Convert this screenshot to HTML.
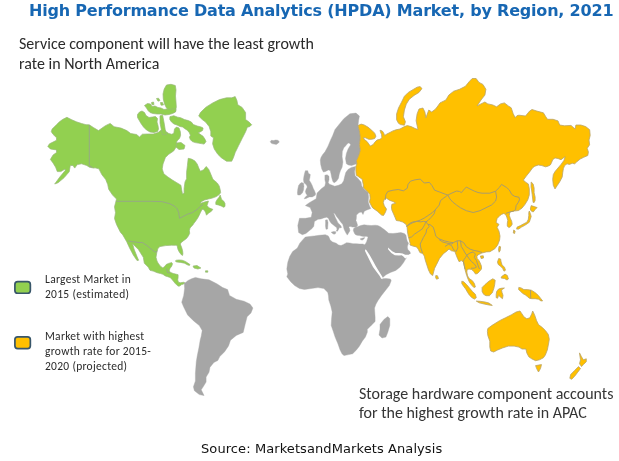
<!DOCTYPE html>
<html><head><meta charset="utf-8">
<style>
html,body{margin:0;padding:0;background:#fff;}
body{width:619px;height:461px;position:relative;overflow:hidden;}
.t{position:absolute;white-space:nowrap;}
#title{left:29px;top:1px;font:bold 16px "DejaVu Sans","Liberation Sans",sans-serif;letter-spacing:-0.2px;color:#1767b3;}
.cal{font-family:Carlito,"Liberation Sans",sans-serif;font-size-adjust:0.4775;color:#2a2a2a;}
.t{will-change:transform;}
#note1{left:19px;top:34.3px;font-size:16px;line-height:19.5px;}
#note2{left:359.2px;top:384.7px;color:#353535;font-size:16px;line-height:18.5px;}
.leg{font-size:11.5px;line-height:14.8px;letter-spacing:0.3px;color:#2a2a2a;}
#l1{left:45px;top:272px;}
#l2{left:45px;top:329.3px;}
#src{left:201px;top:440.8px;font:13px "DejaVu Sans","Liberation Sans",sans-serif;letter-spacing:0.09px;color:#111;}
svg{position:absolute;left:0;top:0;}
</style></head><body>
<svg width="619" height="461" viewBox="0 0 619 461">
<polygon points="66.9,117.3 71.2,119.5 76.4,121.8 81.6,123.5 86.0,124.7 89.2,124.8 93.7,127.7 98.5,130.6 105.4,125.7 110.2,123.4 114.1,126.7 121.0,128.1 126.8,130.6 130.7,133.5 136.6,134.5 139.5,137.0 142.4,134.2 147.3,134.0 153.2,134.0 158.0,132.6 160.0,131.0 162.9,128.7 165.9,131.6 168.8,133.5 171.8,134.3 173.8,133.3 174.5,129.0 176.5,127.0 179.0,128.0 180.3,131.5 180.6,135.3 179.6,138.2 177.7,140.2 176.5,142.0 176.8,146.1 173.6,151.0 168.7,154.3 165.4,157.5 163.0,164.0 162.2,168.9 163.8,173.8 167.9,177.0 172.8,180.3 176.8,182.7 180.9,185.2 181.7,190.0 182.5,194.1 184.1,193.3 184.1,188.4 185.0,181.9 186.6,178.7 186.6,172.2 187.4,165.7 188.2,158.3 191.5,159.1 194.7,160.8 197.2,164.0 198.8,168.1 200.4,171.3 203.7,169.7 206.1,166.5 208.5,168.9 210.0,172.2 212.9,179.3 217.2,182.9 219.2,185.9 220.2,189.8 220.6,192.7 219.2,194.6 216.3,196.6 212.3,198.1 208.4,199.0 204.5,200.0 201.6,201.5 200.1,203.4 201.6,203.0 204.5,202.0 208.4,201.0 207.9,203.0 207.0,205.4 208.9,207.8 211.4,208.8 212.8,209.3 211.4,211.3 208.4,213.2 206.5,215.2 205.5,212.2 204.0,209.8 202.1,209.3 200.6,212.2 199.2,215.2 197.7,218.1 195.7,221.0 193.8,223.5 192.8,225.0 190.0,228.0 189.4,230.5 189.7,233.3 188.4,235.9 186.5,238.5 183.9,240.4 181.3,242.4 180.3,244.0 180.9,245.6 181.9,248.2 182.6,250.8 182.9,253.4 182.6,255.4 181.3,254.7 179.3,252.1 178.0,249.5 177.4,246.9 177.0,245.3 175.4,245.3 171.6,245.2 165.7,245.6 159.9,246.6 157.9,248.5 157.0,251.5 156.0,257.3 157.0,261.0 158.0,263.0 160.4,266.2 162.9,267.9 164.9,266.2 166.1,264.6 168.5,263.4 171.7,262.6 172.5,263.8 171.7,266.2 170.1,268.3 169.3,270.3 170.1,272.3 173.3,273.5 176.5,274.3 178.1,274.7 178.1,277.5 177.7,279.9 178.5,282.3 180.5,282.7 183.7,282.3 185.0,283.0 183.0,284.2 181.5,284.6 180.0,285.8 178.9,286.3 177.3,285.5 174.9,283.1 172.5,279.9 170.1,277.5 167.7,276.7 165.3,275.9 162.9,274.3 160.4,273.5 157.2,272.7 153.2,271.1 150.0,270.3 148.2,267.1 144.3,263.2 143.3,257.3 138.4,249.5 132.6,243.7 134.0,249.0 137.0,256.5 138.6,260.3 137.0,260.5 133.3,255.0 129.6,248.0 126.7,241.7 122.8,234.9 120.4,232.2 116.5,224.4 114.5,218.5 115.5,212.7 114.5,206.8 115.5,202.9 116.5,199.0 112.6,195.1 108.7,189.3 107.7,184.4 105.7,179.5 101.8,174.6 98.9,168.8 95.0,167.8 93.8,168.1 89.4,167.2 86.8,165.5 81.6,163.8 77.3,164.6 74.7,168.1 73.0,165.5 70.3,165.5 69.2,171.8 64.0,177.8 58.0,182.8 54.7,184.0 59.8,177.0 65.2,170.5 65.1,169.0 60.8,171.6 57.3,171.6 55.6,167.2 53.0,162.9 50.4,159.4 53.0,155.1 56.5,152.5 56.5,149.9 50.4,149.0 47.8,146.4 49.5,143.8 53.0,142.1 56.5,140.3 56.5,137.7 53.0,134.3 51.3,131.7 52.1,129.1 56.5,124.7 59.1,122.1 62.5,119.5" fill="#92d050" stroke="#98b878" stroke-width="0.7" stroke-linejoin="round"/>
<polygon points="198.7,116.1 200.4,112.6 205.6,107.4 212.6,103.0 219.5,99.6 226.5,97.8 231.7,97.8 235.2,96.6 236.9,100.4 237.8,104.8 242.1,107.4 245.6,112.6 245.6,119.5 249.1,122.1 251.7,124.7 249.9,126.5 247.3,127.3 245.6,131.7 242.1,138.6 238.6,145.6 235.2,152.5 233.4,157.7 231.7,161.2 226.5,161.2 221.3,157.7 217.8,154.3 214.3,149.1 212.6,143.8 213.5,137.8 210.8,136.0 210.8,131.7 209.1,126.5 205.6,122.1 202.2,119.5" fill="#92d050" stroke="#98b878" stroke-width="0.7" stroke-linejoin="round"/>
<polygon points="166.5,85.0 171.0,84.3 175.3,85.5 176.0,90.0 175.5,96.0 176.0,102.0 176.3,107.0 175.5,111.5 172.0,112.5 169.5,111.0 166.5,108.0 164.5,104.0 163.3,99.0 163.0,94.0 164.2,89.0" fill="#92d050" stroke="#98b878" stroke-width="0.7" stroke-linejoin="round"/>
<polygon points="144.5,105.5 147.5,103.5 150.5,104.0 152.0,106.5 155.0,106.0 158.0,107.5 161.0,108.0 164.0,109.5 167.0,109.0 170.5,109.5 173.5,108.5 176.0,109.5 175.5,112.0 172.5,113.5 169.0,114.5 165.0,115.0 161.0,114.0 157.0,114.0 153.0,113.5 150.0,112.5 148.0,110.5 146.5,108.0" fill="#92d050" stroke="#98b878" stroke-width="0.7" stroke-linejoin="round"/>
<polygon points="137.5,114.5 139.5,112.0 142.0,111.0 144.5,112.5 146.0,115.5 149.0,117.5 152.5,117.0 155.5,116.5 157.5,118.5 157.0,122.0 158.0,125.5 158.5,129.0 157.5,131.5 154.0,132.5 150.0,132.0 146.5,130.0 143.5,127.0 141.0,123.5 139.0,120.0 137.5,117.5" fill="#92d050" stroke="#98b878" stroke-width="0.7" stroke-linejoin="round"/>
<polygon points="160.0,115.8 162.6,115.2 163.9,121.7 165.2,129.5 166.5,134.5 162.5,134.7 161.3,129.5 160.0,123.0" fill="#92d050" stroke="#98b878" stroke-width="0.7" stroke-linejoin="round"/>
<polygon points="169.9,116.7 173.8,115.7 177.7,117.2 180.6,117.7 184.5,119.6 188.4,120.6 191.4,122.1 193.3,124.5 197.2,126.0 201.1,127.0 203.1,128.0 202.6,130.4 200.2,131.9 198.2,132.8 200.2,134.3 203.1,136.3 205.0,139.2 206.0,141.6 204.1,144.1 201.1,143.6 198.2,143.1 195.3,142.6 192.3,141.6 190.4,139.7 189.4,137.2 190.4,135.3 189.4,132.8 187.5,130.4 184.5,128.4 182.6,127.0 180.0,126.5 177.0,125.0 174.0,124.0 171.5,122.0 169.8,119.5" fill="#92d050" stroke="#98b878" stroke-width="0.7" stroke-linejoin="round"/>
<polygon points="176.5,143.0 181.0,142.5 185.0,145.5 184.0,149.0 179.0,149.5 176.0,147.0" fill="#92d050" stroke="#98b878" stroke-width="0.7" stroke-linejoin="round"/>
<polygon points="217.2,199.5 219.2,197.1 220.2,195.1 221.6,199.5 223.6,201.0 225.0,203.4 225.0,206.4 223.6,207.3 221.1,205.9 218.2,204.9 215.8,204.4 215.8,202.0" fill="#92d050" stroke="#98b878" stroke-width="0.7" stroke-linejoin="round"/>
<polygon points="175.3,261.0 176.5,260.2 179.0,260.0 182.1,260.2 185.3,261.4 187.8,263.0 190.0,264.6 189.5,265.4 187.8,265.0 184.5,263.2 180.5,262.4 176.5,261.9" fill="#92d050" stroke="#98b878" stroke-width="0.7" stroke-linejoin="round"/>
<polygon points="193.0,266.1 197.0,265.5 200.9,268.0 197.9,269.0 194.0,268.0" fill="#92d050" stroke="#98b878" stroke-width="0.7" stroke-linejoin="round"/>
<polygon points="205.5,270.8 207.8,270.8 207.8,272.2 205.5,272.2" fill="#92d050" stroke="#98b878" stroke-width="0.7" stroke-linejoin="round"/>
<polygon points="184.3,283.3 186.0,282.3 187.6,280.7 191.5,278.8 195.4,277.4 201.2,278.8 209.0,279.8 216.8,283.7 222.7,287.6 227.6,289.5 229.5,295.4 236.3,299.3 244.1,301.2 250.0,304.1 252.9,308.0 251.0,312.9 247.1,316.8 245.1,324.6 243.2,332.4 236.3,335.4 230.5,340.2 228.5,345.9 224.6,351.7 219.8,356.6 217.8,360.5 213.9,362.4 210.0,367.3 209.0,372.2 206.1,377.1 206.1,382.0 203.2,386.8 201.2,389.8 204.1,395.6 199.3,394.6 194.4,390.7 193.4,386.8 195.4,381.0 195.4,373.2 196.3,361.5 197.3,355.6 198.9,347.8 200.2,340.0 201.2,336.3 202.2,330.5 199.3,325.6 193.4,320.7 187.6,314.9 183.7,307.1 181.7,302.2 183.7,295.4 184.6,288.5" fill="#a6a6a6" stroke="#a6a6a6" stroke-width="0.4" stroke-linejoin="round"/>
<polygon points="349.9,113.8 356.0,113.1 359.4,116.1 358.6,120.4 358.0,125.6 359.4,130.8 360.3,137.7 359.4,144.7 360.3,150.0 359.3,153.9 357.8,157.8 356.4,160.7 356.9,163.2 356.8,163.8 351.6,165.5 348.5,165.0 346.4,163.8 345.5,158.6 346.4,153.4 348.1,149.0 350.7,144.7 349.5,143.2 348.6,143.0 347.3,143.8 345.5,146.0 343.8,147.8 342.3,151.6 342.1,156.8 342.9,162.0 342.1,167.2 340.5,170.5 339.3,174.0 338.5,178.2 337.0,180.5 335.5,182.0 334.0,182.8 332.8,181.3 331.7,177.5 331.0,173.7 330.2,170.6 328.3,169.9 325.6,171.4 323.4,172.1 321.8,169.1 320.7,164.6 320.3,160.0 321.0,157.5 322.6,154.7 325.0,151.8 328.0,146.2 330.4,140.4 332.7,135.5 335.0,129.6 339.5,123.9 343.8,118.7" fill="#a6a6a6" stroke="#a6a6a6" stroke-width="0.4" stroke-linejoin="round"/>
<polygon points="355.5,166.4 351.4,167.4 348.0,169.5 345.8,172.5 344.7,176.5 343.7,180.8 341.8,183.8 338.5,185.3 334.7,186.2 331.7,185.1 329.4,184.3 328.2,182.5 329.0,179.7 329.0,176.3 327.1,174.8 324.9,175.2 324.9,179.7 325.6,182.8 324.9,186.0 321.1,188.9 317.1,192.9 316.1,198.8 309.3,202.7 305.4,205.6 310.2,207.6 312.2,212.4 311.2,217.3 305.4,218.3 299.5,218.3 297.8,225.4 298.6,232.5 302.3,234.7 305.9,233.5 309.5,230.5 312.0,228.6 313.8,226.2 314.4,221.5 318.0,219.3 320.9,219.0 323.7,217.9 326.6,217.2 328.4,218.2 329.5,220.7 331.2,223.3 333.4,225.0 335.2,226.5 336.6,227.5 337.0,229.3 336.3,231.1 337.5,231.2 338.5,229.5 339.5,227.5 340.9,227.9 341.6,227.2 340.2,225.0 338.0,222.9 336.6,220.0 335.2,217.2 334.1,214.3 333.4,213.2 334.8,213.6 336.6,216.5 338.8,219.3 340.9,222.2 342.7,224.3 343.4,226.5 344.1,229.3 345.2,231.5 346.3,233.6 347.3,235.1 348.4,233.3 349.9,230.8 349.5,228.6 348.8,227.2 349.5,226.5 350.7,226.5 352.4,227.1 354.0,227.1 355.6,227.4 356.9,226.5 357.6,225.2 357.2,223.9 356.6,221.9 355.9,220.6 356.3,218.7 356.5,215.1 359.1,212.5 361.5,212.0 363.0,214.5 364.3,211.2 366.9,209.9 370.8,208.6 369.5,206.0 368.2,202.0 368.6,196.9 368.0,192.5 364.5,189.5 361.8,186.0 361.0,182.0 358.0,178.5 355.0,175.5 354.6,171.5" fill="#a6a6a6" stroke="#a6a6a6" stroke-width="0.4" stroke-linejoin="round"/>
<polygon points="305.4,170.7 307.7,170.7 308.4,173.3 310.3,174.5 309.9,177.5 309.2,180.2 310.7,182.5 312.2,185.5 313.3,188.5 314.5,190.8 315.6,193.8 315.2,195.3 312.2,196.9 309.2,196.9 306.1,198.4 304.2,198.8 305.4,196.9 307.3,195.3 306.1,193.8 305.4,191.6 306.1,189.3 307.3,187.0 306.5,185.1 305.0,183.6 303.9,182.5 303.5,179.4 303.9,176.4 304.6,173.3" fill="#a6a6a6" stroke="#a6a6a6" stroke-width="0.4" stroke-linejoin="round"/>
<polygon points="301.6,182.5 303.5,183.2 303.9,186.2 303.5,190.0 302.3,193.1 300.1,195.0 297.8,195.0 297.4,193.1 297.8,189.3 298.6,185.5 300.1,183.6" fill="#a6a6a6" stroke="#a6a6a6" stroke-width="0.4" stroke-linejoin="round"/>
<polygon points="325.5,220.0 327.3,219.8 328.0,222.5 327.8,226.0 327.6,229.0 326.0,229.3 325.5,226.0 325.6,223.0" fill="#a6a6a6" stroke="#a6a6a6" stroke-width="0.4" stroke-linejoin="round"/>
<polygon points="331.2,232.2 333.7,231.5 335.9,231.8 335.5,233.6 334.1,234.3 332.3,233.3" fill="#a6a6a6" stroke="#a6a6a6" stroke-width="0.4" stroke-linejoin="round"/>
<polygon points="360.2,238.8 362.1,238.2 364.7,237.5 364.1,238.8 362.4,240.1 360.8,239.8" fill="#a6a6a6" stroke="#a6a6a6" stroke-width="0.4" stroke-linejoin="round"/>
<polygon points="358.2,226.5 360.8,225.5 364.1,224.8 367.3,225.2 371.2,225.5 375.1,225.2 377.7,225.5 380.0,226.5 384.3,229.6 388.7,233.3 393.0,233.5 397.4,233.0 400.8,232.6 404.3,233.5 406.0,235.2 406.6,238.7 407.3,241.3 408.5,243.3 407.8,245.0 407.3,247.0 407.8,249.5 410.0,251.7 410.4,253.4 408.6,255.2 406.6,257.4 405.0,260.1 403.4,262.8 400.1,267.1 395.8,270.4 390.4,272.5 386.0,274.7 382.8,277.4 381.5,278.8 386.0,278.5 390.4,279.0 391.2,280.7 389.3,285.6 385.4,290.5 381.5,295.4 378.0,300.5 376.0,304.0 374.5,308.0 374.8,313.0 375.1,317.0 375.1,321.5 371.2,325.4 367.3,329.3 367.3,332.2 365.4,337.1 362.4,341.0 359.5,345.9 356.6,349.8 352.7,353.7 348.8,354.6 343.9,355.6 342.0,353.7 340.0,349.8 338.0,343.9 335.1,337.1 333.2,331.2 331.2,325.4 331.5,319.5 332.2,312.0 330.8,306.0 328.8,300.0 328.5,296.0 327.8,292.4 323.9,288.5 318.0,287.6 311.2,288.5 304.4,289.5 299.5,288.5 294.6,285.6 290.7,281.7 286.8,276.8 287.8,273.9 286.8,269.0 287.8,262.2 289.8,256.3 292.7,251.5 297.4,248.0 299.8,243.2 303.5,238.9 305.3,237.1 309.5,236.5 314.4,235.9 319.2,235.3 325.3,234.7 328.3,235.9 329.5,238.3 330.1,240.1 332.6,242.0 336.2,243.2 338.6,245.0 341.0,245.6 343.5,244.4 346.5,242.7 349.8,243.0 353.0,243.7 356.3,243.7 359.5,244.0 362.8,244.0 364.7,244.7 365.7,243.4 366.7,241.4 367.3,239.5 368.0,237.5 367.3,236.5 366.0,236.2 364.7,236.5 362.1,236.2 359.5,235.6 356.9,235.2 355.0,234.3 354.0,232.3 353.3,230.4 353.7,228.4 356.0,227.3" fill="#a6a6a6" stroke="#a6a6a6" stroke-width="0.4" stroke-linejoin="round"/>
<polygon points="380.0,324.4 383.9,319.5 387.8,316.6 389.8,318.5 389.8,325.4 387.8,332.2 385.9,337.1 382.0,338.0 379.0,335.1 380.0,329.3" fill="#a6a6a6" stroke="#a6a6a6" stroke-width="0.4" stroke-linejoin="round"/>
<polygon points="358.0,125.6 361.1,124.1 364.1,124.9 367.9,127.1 371.7,130.2 374.7,133.2 375.9,136.2 374.7,138.5 371.7,139.3 368.7,139.3 365.6,137.8 363.3,137.8 364.1,139.3 367.1,141.6 368.7,143.8 370.2,146.1 371.7,145.3 373.2,144.6 374.7,142.3 377.0,140.0 380.0,139.3 381.9,137.8 381.6,134.7 380.4,131.7 380.0,130.2 382.3,131.0 383.8,133.2 384.6,135.5 386.9,134.0 389.9,132.5 392.9,130.9 396.0,129.8 400.0,129.0 404.4,126.6 407.3,125.6 411.2,126.6 415.1,128.5 418.0,129.5 417.1,125.6 416.1,120.7 417.1,113.9 419.0,109.0 422.9,108.0 424.9,112.0 425.9,117.8 428.8,110.0 431.7,112.0 435.6,109.0 438.5,105.1 440.0,102.9 445.9,100.0 448.8,95.1 453.7,91.2 459.5,89.3 465.4,86.3 469.3,81.5 472.2,78.5 476.1,78.5 479.0,82.4 482.9,84.4 485.9,89.3 484.9,95.1 481.0,100.0 477.1,105.9 481.0,103.9 484.9,102.0 487.8,103.9 492.7,104.9 496.6,106.8 500.5,103.9 504.4,102.9 508.3,105.9 511.2,107.8 513.2,113.7 515.1,117.6 517.1,115.6 519.0,115.2 525.5,116.0 529.6,111.1 532.0,109.5 536.9,111.1 543.4,112.8 545.8,116.8 547.5,119.3 553.1,119.3 558.0,120.9 559.7,125.0 564.5,125.8 571.0,125.4 575.1,129.0 575.9,125.0 580.8,125.0 585.7,126.6 589.7,129.8 590.2,135.5 589.0,140.0 589.6,144.8 587.2,148.3 588.4,151.9 587.8,155.5 583.7,157.3 580.1,159.1 576.5,162.1 574.7,163.8 572.3,163.3 569.4,164.4 567.0,163.8 564.6,165.6 563.4,168.6 562.8,172.2 562.2,177.0 559.8,181.7 557.4,185.3 555.0,188.9 553.3,185.3 552.7,179.4 553.3,174.6 555.0,171.6 558.0,168.0 561.0,164.4 564.0,160.3 565.2,156.7 563.4,157.9 561.0,159.7 558.0,158.5 555.0,157.9 552.7,159.7 551.5,162.7 550.3,165.0 547.9,166.2 545.5,166.8 541.9,165.6 538.3,165.0 534.8,166.2 532.4,168.0 530.2,171.2 526.3,176.1 523.4,180.0 525.3,182.0 528.3,183.9 529.3,188.8 529.3,194.9 527.8,199.8 524.9,204.6 522.0,208.1 518.6,210.5 514.6,211.0 511.7,211.5 509.8,212.0 509.3,215.4 510.3,218.3 511.7,221.3 512.2,224.2 510.7,226.6 508.8,227.6 507.3,226.1 507.3,223.2 507.8,220.3 506.8,217.3 505.9,214.9 503.9,213.4 501.5,214.4 500.0,215.4 497.1,218.5 496.1,222.4 499.0,224.4 497.1,227.3 499.0,231.2 500.0,236.1 499.6,240.0 497.7,244.9 494.8,248.8 489.9,251.7 486.2,251.9 484.0,252.5 481.9,253.0 479.7,254.1 477.9,254.9 476.9,256.5 477.2,258.5 478.9,260.4 480.2,263.0 481.5,266.3 481.5,268.9 479.5,271.5 477.6,273.4 475.6,274.1 473.7,271.5 471.7,269.5 469.0,269.0 467.2,269.6 466.8,272.0 467.6,275.9 469.5,278.8 472.4,280.7 474.4,283.6 475.4,287.0 473.9,287.5 472.0,285.6 469.6,282.5 468.0,279.0 466.8,275.8 465.8,272.6 465.0,269.5 464.5,266.3 463.6,262.0 461.3,260.6 459.1,261.7 457.5,258.4 455.8,254.1 454.8,251.4 451.5,250.8 449.0,249.0 447.3,250.7 443.4,253.7 439.5,258.5 436.6,264.4 434.6,268.3 432.7,275.5 430.5,274.0 428.5,270.0 427.2,266.0 426.2,263.0 425.1,259.5 424.3,256.0 422.5,253.4 419.9,252.6 418.2,249.1 416.5,246.9 413.0,246.1 410.0,245.0 410.2,243.5 409.3,240.0 408.3,236.5 407.5,232.0 407.1,227.5 406.0,224.3 402.8,222.1 399.5,221.0 396.3,220.5 395.2,217.8 393.6,214.0 391.9,210.2 391.4,206.9 391.9,204.2 394.1,203.7 395.7,203.1 393.0,201.5 389.8,200.4 386.5,198.3 384.3,199.3 383.3,202.6 384.3,205.8 386.5,209.1 385.4,212.3 383.5,215.5 381.5,215.0 377.3,211.2 372.8,208.0 371.5,206.0 369.5,202.1 370.2,198.2 369.8,194.3 367.1,191.2 363.7,188.1 363.2,184.2 362.2,179.3 357.5,176.0 356.4,175.4 355.9,171.5 355.9,166.6 356.9,163.7 356.4,160.7 357.8,157.8 359.3,153.9 360.3,150.0 359.4,144.7 360.3,137.7 359.4,130.8" fill="#ffc000" stroke="#baa468" stroke-width="0.8" stroke-linejoin="round"/>
<polygon points="420.0,86.6 422.0,88.5 419.0,92.4 414.1,95.4 409.3,99.3 406.3,104.1 404.4,110.0 403.4,116.8 405.4,121.7 404.4,125.2 400.5,124.6 398.5,123.3 396.6,119.8 396.6,113.9 398.5,108.0 401.5,102.2 404.4,96.3 408.3,92.4 413.2,89.5 417.1,87.2" fill="#ffc000" stroke="#baa468" stroke-width="0.8" stroke-linejoin="round"/>
<polygon points="531.2,182.0 533.1,183.9 534.1,188.0 534.1,192.7 535.1,197.0 535.1,200.5 534.2,202.4 533.1,202.4 532.6,198.0 532.2,194.6 531.6,190.0 531.0,186.8" fill="#ffc000" stroke="#baa468" stroke-width="0.8" stroke-linejoin="round"/>
<polygon points="531.2,205.6 534.2,206.6 537.1,207.6 535.2,209.5 533.2,212.0 531.2,211.0 530.3,209.0" fill="#ffc000" stroke="#baa468" stroke-width="0.8" stroke-linejoin="round"/>
<polygon points="529.3,211.0 530.3,213.4 531.2,216.4 530.3,219.3 529.3,222.2 527.3,223.7 524.4,225.6 521.5,227.1 518.6,229.1 516.6,229.1 517.1,227.1 520.5,225.6 523.9,223.7 526.9,222.2 528.3,219.3 528.8,215.4 528.8,212.5" fill="#ffc000" stroke="#baa468" stroke-width="0.8" stroke-linejoin="round"/>
<polygon points="513.7,230.0 515.1,231.0 514.6,233.5 513.3,233.0" fill="#ffc000" stroke="#baa468" stroke-width="0.8" stroke-linejoin="round"/>
<polygon points="499.1,246.3 500.6,246.8 500.1,250.7 499.1,252.2 498.5,249.8" fill="#ffc000" stroke="#baa468" stroke-width="0.8" stroke-linejoin="round"/>
<polygon points="480.4,256.0 483.3,255.8 483.5,258.0 481.2,258.6" fill="#ffc000" stroke="#baa468" stroke-width="0.8" stroke-linejoin="round"/>
<polygon points="435.8,275.5 437.5,275.8 438.5,278.5 436.5,279.2 435.6,277.5" fill="#ffc000" stroke="#baa468" stroke-width="0.8" stroke-linejoin="round"/>
<polygon points="498.7,258.5 500.6,259.0 501.1,262.0 502.1,264.9 504.5,267.3 505.5,270.2 504.0,271.2 502.6,268.3 500.6,266.3 498.2,264.4 497.5,262.0" fill="#ffc000" stroke="#baa468" stroke-width="0.8" stroke-linejoin="round"/>
<polygon points="501.6,276.6 505.0,274.1 507.4,275.6 508.4,279.0 507.0,280.0 504.5,278.5 501.1,278.0" fill="#ffc000" stroke="#baa468" stroke-width="0.8" stroke-linejoin="round"/>
<polygon points="461.8,281.2 463.7,281.7 466.6,284.6 469.5,288.0 472.4,291.4 475.4,294.3 476.3,297.7 474.4,299.1 472.0,297.7 469.5,295.3 467.6,292.4 465.7,289.0 463.7,286.5 461.8,283.6" fill="#ffc000" stroke="#baa468" stroke-width="0.8" stroke-linejoin="round"/>
<polygon points="476.3,301.1 480.2,301.3 485.0,302.0 488.9,303.0 492.3,305.4 488.9,305.0 484.1,304.0 479.2,302.8" fill="#ffc000" stroke="#baa468" stroke-width="0.8" stroke-linejoin="round"/>
<polygon points="482.1,287.5 485.0,284.6 488.9,281.2 492.8,278.8 495.2,280.2 494.7,284.6 493.8,288.5 492.3,292.8 489.4,295.7 486.0,295.7 483.6,294.3 482.1,291.4" fill="#ffc000" stroke="#baa468" stroke-width="0.8" stroke-linejoin="round"/>
<polygon points="496.7,291.4 498.6,289.0 501.0,288.3 504.4,288.0 501.5,289.9 502.0,292.4 503.0,295.3 502.5,298.7 500.6,297.2 498.6,295.3 497.6,298.2 496.2,297.7 496.2,294.3" fill="#ffc000" stroke="#baa468" stroke-width="0.8" stroke-linejoin="round"/>
<polygon points="518.8,287.4 521.1,287.9 523.9,289.6 527.3,289.6 531.3,290.2 534.1,291.9 536.4,293.6 538.6,295.8 540.9,298.7 542.6,300.9 540.9,300.9 538.6,299.2 535.2,298.7 531.8,298.7 529.0,298.1 527.3,296.4 525.1,294.7 522.8,293.6 520.5,291.3 518.6,289.6" fill="#ffc000" stroke="#baa468" stroke-width="0.8" stroke-linejoin="round"/>
<polygon points="487.8,328.5 491.7,325.6 499.5,320.7 505.4,317.8 511.2,314.9 516.1,312.0 520.0,311.0 522.0,313.9 523.9,316.8 526.8,318.8 529.8,317.8 531.7,313.9 532.7,311.0 534.6,314.9 536.6,320.7 538.5,324.6 542.4,327.6 545.4,330.5 548.3,334.4 549.3,339.3 548.3,345.1 547.3,350.0 545.4,354.9 543.4,357.8 539.5,359.8 535.6,360.7 531.7,358.8 528.8,356.8 526.8,352.9 525.9,349.0 522.0,349.0 519.0,347.1 514.1,346.1 508.3,346.1 502.4,348.0 497.6,350.0 493.7,352.0 490.7,351.0 489.8,347.1 489.8,341.2 487.8,335.4 487.4,331.5" fill="#ffc000" stroke="#baa468" stroke-width="0.8" stroke-linejoin="round"/>
<polygon points="535.6,365.6 541.5,364.6 540.5,368.5 538.5,372.0 536.6,368.5" fill="#ffc000" stroke="#baa468" stroke-width="0.8" stroke-linejoin="round"/>
<polygon points="579.5,352.9 581.5,356.8 583.4,359.8 586.3,358.8 586.3,361.7 583.4,364.6 581.5,366.6 579.5,363.7 580.5,359.8 579.9,355.9" fill="#ffc000" stroke="#baa468" stroke-width="0.8" stroke-linejoin="round"/>
<polygon points="578.5,366.6 580.5,368.5 577.6,372.4 574.6,376.3 571.7,379.3 569.8,378.3 570.7,374.4 574.6,370.5" fill="#ffc000" stroke="#baa468" stroke-width="0.8" stroke-linejoin="round"/>
<polygon points="151.5,102.5 153.5,102.0 154.0,104.5 152.0,104.8" fill="#92d050" stroke="#98b878" stroke-width="0.7" stroke-linejoin="round"/>
<polygon points="156.5,98.5 158.5,98.2 160.0,100.5 158.0,101.2" fill="#92d050" stroke="#98b878" stroke-width="0.7" stroke-linejoin="round"/>
<polygon points="160.5,102.5 162.5,102.5 163.5,105.0 161.0,105.2" fill="#92d050" stroke="#98b878" stroke-width="0.7" stroke-linejoin="round"/>
<polygon points="270.3,141.4 271.4,140.3 273.6,140.6 275.7,140.0 277.9,140.3 279.3,141.7 278.4,143.0 276.3,144.4 274.1,144.1 271.9,143.6 270.9,142.8" fill="#a6a6a6" stroke="#a6a6a6" stroke-width="0.4" stroke-linejoin="round"/>
<polygon points="364.9,250.8 367.6,256.3 370.3,261.7 373.0,267.1 376.3,271.5 379.5,275.8 381.1,278.5 382.3,279.3 382.8,277.4 381.1,274.7 378.4,270.4 375.7,266.0 373.0,261.1 369.8,255.2 366.5,250.3 365.6,249.2" fill="#fff"/>
<polygon points="388.0,247.5 392.2,251.3 395.6,253.0 399.1,253.0 402.6,253.4 405.2,254.7 408.6,254.7 410.8,253.8 409.0,256.2 406.6,257.8 405.2,258.5 403.4,256.5 401.7,255.2 399.1,255.6 394.8,255.2 391.3,253.0 388.2,249.5" fill="#fff"/>
<polyline points="89.3,125.0 89.3,165.5 92.5,167.5" fill="none" stroke="#97a985" stroke-width="1" stroke-linejoin="round"/>
<polyline points="116.5,201.3 134.2,201.3 150.4,201.3 161.7,201.6 169.8,203.7 174.6,206.2 177.0,208.6 178.7,212.6 179.5,218.3 182.7,216.7 187.5,214.2 192.4,212.6 197.2,209.4 200.5,206.2 202.9,204.5" fill="none" stroke="#97a985" stroke-width="1" stroke-linejoin="round"/>
<polyline points="127.8,240.9 132.6,241.7 139.1,242.5 142.3,242.5 147.2,245.7 152.0,249.8 155.2,252.2 157.5,251.0" fill="none" stroke="#97a985" stroke-width="1" stroke-linejoin="round"/>
<polyline points="166.5,268.5 167.5,272.5 170.0,273.0" fill="none" stroke="#97a985" stroke-width="1" stroke-linejoin="round"/>
<polyline points="385.2,199.9 385.9,194.7 387.8,191.5 393.0,190.2 398.2,189.5 403.4,190.8 407.3,188.2 408.0,184.3 410.6,181.1 415.1,179.8 420.3,179.1 424.2,183.0 429.4,182.4 432.0,185.6 434.6,190.2 439.8,192.1 445.1,194.1 447.8,195.1" fill="none" stroke="#aa9c6c" stroke-width="1" stroke-linejoin="round"/>
<polyline points="447.8,195.1 452.0,193.0 456.6,191.0 459.5,191.5 461.5,192.6 463.5,190.0 466.4,187.0 469.0,188.5 472.0,190.0 474.5,191.2 478.0,192.5 482.0,193.2 489.8,193.2 495.6,191.2 499.5,187.3 501.5,184.4 506.3,187.3 509.3,190.0 511.7,194.4 514.6,196.3 519.0,197.3 519.5,199.8 518.1,202.7 516.1,205.6 515.6,209.5 513.7,211.0 509.8,212.0 505.9,213.4" fill="none" stroke="#aa9c6c" stroke-width="1" stroke-linejoin="round"/>
<polyline points="447.8,195.1 450.0,199.0 452.7,202.0 456.5,205.0 460.5,207.8 466.3,210.7 473.2,212.5 480.0,210.7 485.9,207.8 491.7,204.9 495.6,201.0 496.6,197.1 495.6,191.2" fill="none" stroke="#aa9c6c" stroke-width="1" stroke-linejoin="round"/>
<polyline points="447.8,195.1 443.8,198.0 440.5,200.6 439.2,205.1 435.9,209.0 432.0,212.9 428.1,215.5 424.2,218.1 420.3,220.1 416.4,221.4 412.5,222.0 409.9,223.3 407.3,226.0" fill="none" stroke="#aa9c6c" stroke-width="1" stroke-linejoin="round"/>
<polyline points="435.5,209.5 434.0,214.0 431.0,217.5 428.0,220.5 426.0,221.9" fill="none" stroke="#aa9c6c" stroke-width="1" stroke-linejoin="round"/>
<polyline points="426.0,221.9 423.4,221.3 420.8,221.9 416.9,221.3 413.0,222.6 409.1,224.5 406.5,226.5" fill="none" stroke="#aa9c6c" stroke-width="1" stroke-linejoin="round"/>
<polyline points="426.0,221.9 424.1,225.8 422.1,229.1 418.2,231.7 414.3,234.3 411.7,236.9 409.1,237.5" fill="none" stroke="#aa9c6c" stroke-width="1" stroke-linejoin="round"/>
<polyline points="428.0,224.5 429.3,226.5 426.7,229.1 426.0,233.0 423.4,237.5 421.5,241.4 420.2,244.0 420.8,247.9 422.5,253.0" fill="none" stroke="#aa9c6c" stroke-width="1" stroke-linejoin="round"/>
<polyline points="426.0,221.9 428.0,224.5 429.9,224.5 433.2,227.1 434.5,231.0 435.8,236.2 439.0,238.8 444.2,240.8 449.4,242.1 453.3,242.7 457.2,240.8 460.5,240.8 463.7,242.7 466.3,246.6 470.2,249.2 474.1,250.5 478.0,251.2 482.0,252.5" fill="none" stroke="#aa9c6c" stroke-width="1" stroke-linejoin="round"/>
<polyline points="439.0,239.5 442.9,242.1 448.1,243.4 452.0,244.0 453.3,242.7" fill="none" stroke="#aa9c6c" stroke-width="1" stroke-linejoin="round"/>
<polyline points="445.0,246.5 448.3,244.3 451.5,245.4 453.7,249.8 455.3,250.8" fill="none" stroke="#aa9c6c" stroke-width="1" stroke-linejoin="round"/>
<polyline points="457.2,240.8 457.9,247.9 455.9,251.8" fill="none" stroke="#aa9c6c" stroke-width="1" stroke-linejoin="round"/>
<polyline points="460.5,240.8 461.3,246.5 463.4,249.8 465.1,253.0 466.7,255.2 465.6,257.4 464.0,259.5 463.4,261.7 464.0,265.0 465.1,269.3" fill="none" stroke="#aa9c6c" stroke-width="1" stroke-linejoin="round"/>
<polyline points="466.7,255.2 470.0,253.0 473.2,251.9 475.4,254.1 474.3,257.4 476.5,260.6 477.5,263.9 478.6,267.1 479.5,269.0" fill="none" stroke="#aa9c6c" stroke-width="1" stroke-linejoin="round"/>
<polyline points="466.7,255.2 468.9,258.4 471.6,261.7 474.3,263.9 476.5,267.1 474.3,268.2 471.0,268.2" fill="none" stroke="#aa9c6c" stroke-width="1" stroke-linejoin="round"/>
<polyline points="530.5,290.0 530.6,294.0 530.8,298.5" fill="none" stroke="#aa9c6c" stroke-width="1" stroke-linejoin="round"/>
<rect x="14.9" y="281.65" width="15.45" height="11.6" rx="2.8" fill="#92d050" stroke="#38566a" stroke-width="1.7"/>
<rect x="14.9" y="336.95" width="15.45" height="11.6" rx="2.8" fill="#ffc000" stroke="#38566a" stroke-width="1.7"/>
</svg>
<div class="t" id="title">High Performance Data Analytics (HPDA) Market, by Region, 2021</div>
<div class="t cal" id="note1">Service component will have the least growth<br>rate in North America</div>
<div class="t cal leg" id="l1">Largest Market in<br>2015 (estimated)</div>
<div class="t cal leg" id="l2">Market with highest<br>growth rate for 2015-<br>2020 (projected)</div>
<div class="t cal" id="note2">Storage hardware component accounts<br>for the highest growth rate in APAC</div>
<div class="t" id="src">Source: MarketsandMarkets Analysis</div>
</body></html>
